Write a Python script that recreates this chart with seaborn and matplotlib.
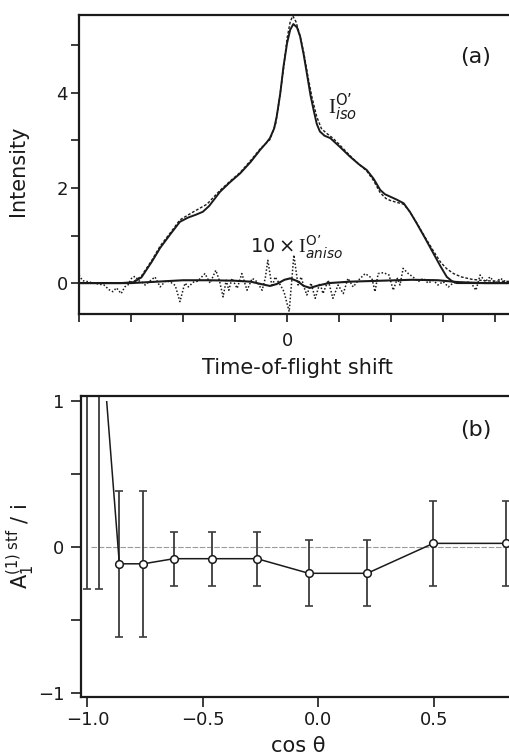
import matplotlib
matplotlib.use("Agg")
import matplotlib.pyplot as plt
import seaborn as sns
from matplotlib.patches import Rectangle

# ---------------- panel (a): time-of-flight profiles ----------------
tof_fit_x = [-4.0, -3.2, -2.95, -2.8, -2.6, -2.44, -2.25, -2.06, -1.9, -1.75, -1.62, -1.5,
             -1.29, -1.1, -0.9, -0.7, -0.52, -0.4, -0.33, -0.25, -0.2, -0.13, -0.07, 0.0,
             0.06, 0.12, 0.19, 0.25, 0.32, 0.38, 0.45, 0.51, 0.57, 0.63, 0.72, 0.83,
             1.0, 1.21, 1.38, 1.53, 1.66, 1.79, 1.88, 1.98, 2.1, 2.24, 2.36, 2.49,
             2.65, 2.81, 2.95, 3.07, 3.17, 3.26, 3.5, 4.4]
iso_fit = [0.0, 0.0, 0.02, 0.12, 0.45, 0.74, 1.02, 1.29, 1.38, 1.44, 1.50, 1.62,
           1.92, 2.12, 2.31, 2.55, 2.80, 2.95, 3.05, 3.25, 3.50, 4.0, 4.55, 5.05,
           5.33, 5.45, 5.38, 5.19, 4.8, 4.41, 3.95, 3.64, 3.35, 3.19, 3.10, 3.05,
           2.88, 2.66, 2.50, 2.38, 2.20, 1.96, 1.87, 1.82, 1.76, 1.68, 1.50, 1.26,
           0.95, 0.63, 0.35, 0.13, 0.04, 0.0, 0.0, 0.0]

tof_data_x = [-4.0, -3.1, -2.95, -2.8, -2.6, -2.44, -2.25, -2.06, -1.8, -1.54, -1.29,
              -1.1, -0.9, -0.7, -0.52, -0.33, -0.22, -0.15, -0.07, 0.0, 0.06, 0.11,
              0.17, 0.25, 0.32, 0.40, 0.48, 0.57, 0.66, 0.76, 0.88, 1.0, 1.21, 1.38,
              1.53, 1.66, 1.79, 1.90, 1.98, 2.1, 2.24, 2.36, 2.49, 2.65, 2.81, 2.95,
              3.07, 3.2, 3.35, 3.55, 3.8, 4.4]
iso_data = [0.0, 0.0, 0.03, 0.15, 0.48, 0.78, 1.05, 1.33, 1.50, 1.66, 1.95,
            2.14, 2.33, 2.58, 2.82, 3.02, 3.35, 3.85, 4.5, 5.15, 5.5, 5.62,
            5.5, 5.2, 4.85, 4.35, 3.9, 3.5, 3.25, 3.15, 3.05, 2.92, 2.68, 2.50,
            2.36, 2.16, 1.90, 1.78, 1.74, 1.70, 1.66, 1.50, 1.27, 0.97, 0.68, 0.44,
            0.30, 0.20, 0.13, 0.08, 0.05, 0.03]

aniso_x = [-4.00, -3.93, -3.83, -3.72, -3.62, -3.52, -3.42, -3.35, -3.28, -3.19, -3.12,
           -3.06, -2.98, -2.92, -2.85, -2.78, -2.73, -2.64, -2.54, -2.44, -2.33, -2.24,
           -2.15, -2.06, -1.99, -1.96, -1.90, -1.80, -1.72, -1.65, -1.58, -1.52, -1.48,
           -1.42, -1.37, -1.30, -1.23, -1.17, -1.12, -1.06, -0.96, -0.87, -0.77, -0.67,
           -0.58, -0.48, -0.42, -0.37, -0.29, -0.23, -0.13, -0.06, 0.04, 0.13, 0.21,
           0.27, 0.33, 0.38, 0.46, 0.54, 0.63, 0.69, 0.79, 0.88, 0.98, 1.08, 1.17,
           1.27, 1.37, 1.50, 1.57, 1.63, 1.69, 1.75, 1.85, 1.96, 2.04, 2.12, 2.17,
           2.23, 2.33, 2.42, 2.52, 2.62, 2.71, 2.81, 2.90, 3.00, 3.10, 3.19, 3.29,
           3.42, 3.52, 3.63, 3.71, 3.81, 3.90, 4.00, 4.10, 4.20, 4.29, 4.40]
aniso_data = [0.17, 0.05, 0.03, 0.0, -0.02, -0.04, -0.14, -0.18, -0.10, -0.22, -0.08,
              -0.04, 0.12, 0.14, 0.05, 0.01, -0.04, 0.04, 0.13, -0.08, 0.05, 0.02,
              -0.05, -0.39, -0.10, 0.0, -0.08, 0.02, 0.04, 0.12, 0.20, 0.08, 0.0,
              0.15, 0.27, 0.05, -0.29, 0.06, -0.15, 0.10, -0.11, 0.20, -0.15, 0.10,
              0.03, -0.15, 0.10, 0.48, -0.08, 0.13, -0.04, -0.18, -0.60, 0.59, -0.04,
              0.13, -0.10, -0.25, 0.0, -0.32, 0.0, -0.22, 0.06, -0.32, -0.04, -0.22, 0.10,
              -0.08, 0.06, 0.20, 0.15, 0.10, -0.18, 0.20, 0.22, 0.17, -0.15, 0.10, -0.04,
              0.31, 0.20, 0.13, 0.03, 0.10, 0.0, 0.06, -0.04, 0.03, -0.08, 0.0, 0.03,
              0.0, 0.03, -0.15, 0.17, 0.03, 0.13, 0.0, 0.10, 0.03, 0.03, 0.03]

aniso_fit_x = [-4.0, -3.0, -2.5, -2.0, -1.5, -1.0, -0.7, -0.5, -0.33, -0.2, -0.05, 0.06,
               0.2, 0.32, 0.44, 0.6, 0.8, 1.2, 1.8, 2.4, 2.9, 3.3, 3.8, 4.4]
aniso_fit = [0.0, 0.0, 0.03, 0.06, 0.06, 0.05, 0.03, -0.02, -0.06, -0.02, 0.07, 0.10,
             0.04, -0.06, -0.10, -0.05, 0.0, 0.03, 0.05, 0.07, 0.06, 0.02, 0.0, 0.0]

# ---------------- panel (b): asymmetry vs cos(theta) ----------------
cos_theta = [-1.0, -0.95, -0.862, -0.758, -0.626, -0.462, -0.266, -0.042, 0.211, 0.497, 0.812]
a1_ratio = [2.5, 1.67, -0.115, -0.115, -0.08, -0.08, -0.08, -0.18, -0.18, 0.025, 0.025]
a1_err = [2.79, 1.96, 0.50, 0.50, 0.185, 0.185, 0.185, 0.225, 0.225, 0.29, 0.29]

sns.set_theme(style="ticks")
plt.rcParams["font.family"] = ["DejaVu Sans"]
plt.rcParams["mathtext.fontset"] = "custom"
plt.rcParams["mathtext.rm"] = "DejaVu Sans"
plt.rcParams["mathtext.it"] = "DejaVu Sans:italic"
plt.rcParams["mathtext.sf"] = "DejaVu Sans"
plt.rcParams["mathtext.cal"] = "Liberation Serif"

W, H = 510, 756
fig = plt.figure(figsize=(W / 100, H / 100), dpi=100)


def box(l, t, r, b):
    return [l / W, 1 - b / H, (r - l) / W, (b - t) / H]


ink = "#1a1a1a"

# ---- (a)
axa = fig.add_axes(box(79, 15, 516, 314))
sns.lineplot(x=tof_fit_x, y=iso_fit, ax=axa, color=ink, linewidth=1.4,
             estimator=None, sort=False)
sns.lineplot(x=tof_data_x, y=iso_data, ax=axa, color=ink, linewidth=1.0,
             linestyle=(0, (2.0, 1.3)), estimator=None, sort=False)
sns.lineplot(x=aniso_x, y=aniso_data, ax=axa, color=ink, linewidth=1.1,
             linestyle=(0, (1.0, 1.3)), estimator=None, sort=False)
sns.lineplot(x=aniso_fit_x, y=aniso_fit, ax=axa, color=ink, linewidth=1.5,
             estimator=None, sort=False)

axa.set_xlim(-4.0, 4.4)
axa.set_ylim(-0.65, 5.64)
axa.set_xticks(range(-4, 5))
axa.set_xticklabels(["" if v != 0 else "0" for v in range(-4, 5)])
axa.set_yticks([0, 2, 4])
axa.set_yticks([1, 3, 5], minor=True)
axa.tick_params(axis="both", which="both", direction="out", length=6, width=1.2,
                color=ink, labelsize=13, labelcolor=ink)
axa.tick_params(axis="x", pad=7)
axa.tick_params(axis="y", pad=2)
for s in ["left", "top", "bottom"]:
    axa.spines[s].set_linewidth(1.6)
    axa.spines[s].set_color(ink)
axa.spines["right"].set_visible(False)
axa.set_xlabel("Time-of-flight shift", fontsize=15, color=ink)
axa.set_ylabel("Intensity", fontsize=15, color=ink)
axa.xaxis.set_label_coords(0.5, -0.147)
axa.yaxis.set_label_coords(-0.117, 0.48)

axa.text(0.79, 3.56, "$\\mathcal{I}^{\\mathsf{O\u2019}}_{iso}$", fontsize=15,
         color=ink, va="baseline")
axa.text(-0.72, 0.63, "$10\\times\\mathcal{I}^{\\mathsf{O\u2019}}_{aniso}$", fontsize=14,
         color=ink, va="baseline")
fig.text(476 / W, 1 - 57 / H, "(a)", fontsize=16, ha="center", va="center", color=ink)

# ---- (b)
axb = fig.add_axes(box(81, 396, 516, 697))
axb.plot([-0.985, 0.9], [0, 0], color="#9a9a9a", linewidth=0.8,
         linestyle=(0, (5, 1.5)))
axb.errorbar(cos_theta, a1_ratio, yerr=a1_err, fmt="none", ecolor="#3c3c3c",
             elinewidth=1.3, capsize=3, capthick=1.2)
sns.lineplot(x=cos_theta, y=a1_ratio, ax=axb, color=ink, linewidth=1.1,
             estimator=None, sort=False)
conn = axb.lines[-1]
clip = Rectangle((-1.2, -1.2), 2.5, 2.2, transform=axb.transData)
conn.set_clip_path(clip)
axb.plot(cos_theta, a1_ratio, linestyle="none", marker="o", markersize=5.5,
         markerfacecolor="white", markeredgecolor=ink, markeredgewidth=1.1)

axb.set_xlim(-1.028, 0.855)
axb.set_ylim(-1.027, 1.034)
axb.set_xticks([-1.0, -0.5, 0.0, 0.5])
axb.set_xticklabels(["\u22121.0", "\u22120.5", "0.0", "0.5"])
axb.set_yticks([-1, 0, 1])
axb.set_yticklabels(["\u22121", "0", "1"])
axb.set_yticks([-0.5, 0.5], minor=True)
axb.tick_params(axis="both", which="both", direction="out", length=7, width=1.2,
                color=ink, labelsize=13, labelcolor=ink)
axb.tick_params(axis="x", pad=3)
axb.tick_params(axis="y", pad=5)
for s in ["left", "top", "bottom"]:
    axb.spines[s].set_linewidth(1.6)
    axb.spines[s].set_color(ink)
axb.spines["right"].set_visible(False)
axb.set_xlabel("cos \u03b8", fontsize=15, color=ink)
axb.set_ylabel(r"$\mathsf{A}_1^{(1)\ \mathsf{stf}}$ / i", fontsize=15, color=ink)
axb.xaxis.set_label_coords(0.5, -0.128)
axb.yaxis.set_label_coords(-0.101, 0.5)
fig.text(476 / W, 1 - 430 / H, "(b)", fontsize=16, ha="center", va="center", color=ink)

fig.savefig("out.png", dpi=100, facecolor="white")
